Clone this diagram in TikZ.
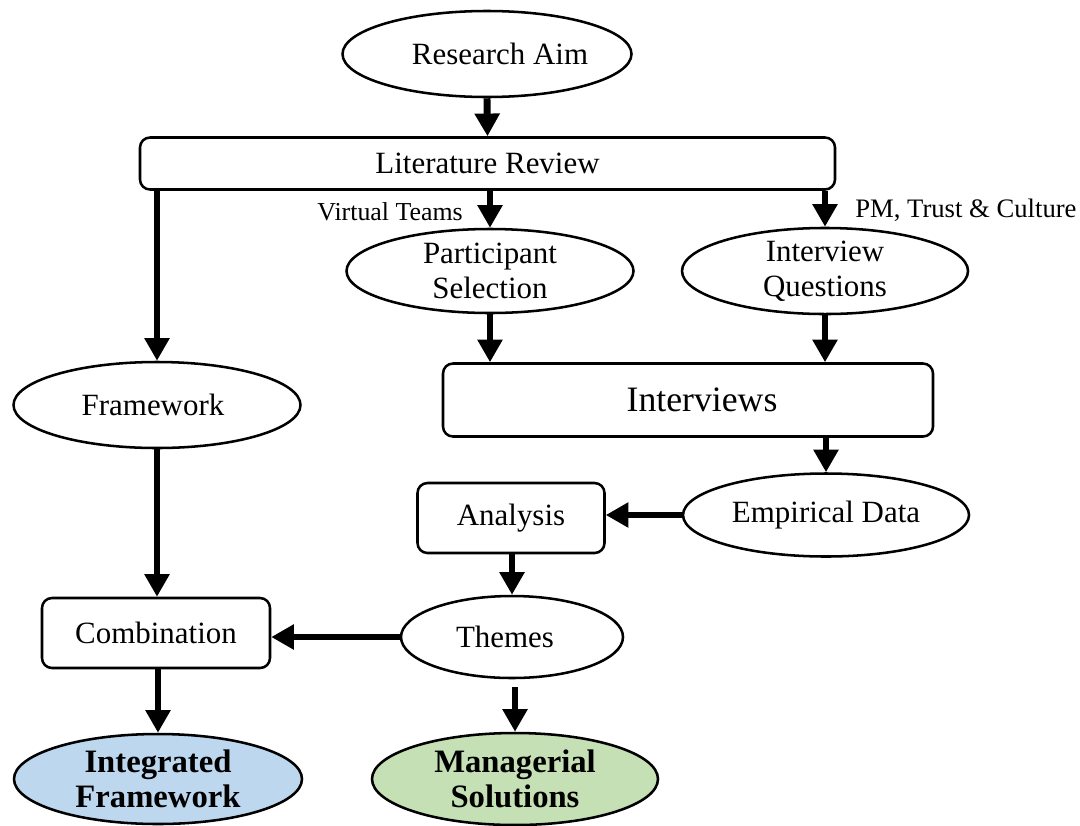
\documentclass[tikz,border=0pt]{standalone}
\usepackage{fontspec}
\setmainfont{Liberation Serif}
\usetikzlibrary{shapes.geometric,arrows.meta,calc}
\definecolor{ifblue}{RGB}{189,215,238}
\definecolor{msgreen}{RGB}{197,224,180}
\tikzset{
  oval/.style={ellipse, draw, line width=1.9pt, inner sep=0pt, align=center,
    font=\fontsize{23.2}{26.5}\selectfont},
  rbox/.style={rectangle, rounded corners=7.5pt, draw, line width=1.9pt, inner sep=0pt,
    align=center, font=\fontsize{23.2}{26.5}\selectfont},
  result/.style={oval, font=\fontsize{24.5}{26.5}\selectfont\bfseries},
  tag/.style={inner sep=0pt, font=\fontsize{19.4}{22}\selectfont},
  flow/.style={line width=5.2pt, -{Triangle[width=18pt,length=17pt]}}
}
\begin{document}
\begin{tikzpicture}[x=0.75pt,y=-0.75pt]
\useasboundingbox (0,0) rectangle (1080,825);

% nodes
\node[oval, minimum width=216.75pt, minimum height=64.5pt] (ra) at (487,54) {\hspace*{19.5pt}Research Aim};
\node[rbox, minimum width=521.25pt, minimum height=39pt] (lit) at (487.5,163.5) {Literature Review};
\node[oval, minimum width=215.25pt, minimum height=63pt] (ps) at (490,271) {Participant\\Selection};
\node[oval, minimum width=214.5pt, minimum height=61.5pt] (iq) at (825,271) {Interview\\Questions};
\node[oval, minimum width=215.25pt, minimum height=64.5pt] (fw) at (157,405) {Framework\hspace*{6pt}};
\node[rbox, minimum width=367.5pt, minimum height=54.75pt, font=\fontsize{26.8}{30}\selectfont] (int) at (688,400) {\hspace*{21pt}Interviews};
\node[oval, minimum width=214.5pt, minimum height=62.25pt] (ed) at (826,515) {Empirical Data};
\node[rbox, minimum width=140.25pt, minimum height=52.5pt] (an) at (511,518) {Analysis};
\node[oval, minimum width=166.5pt, minimum height=61.5pt] (th) at (512,637) {Themes\hspace*{10.5pt}};
\node[rbox, minimum width=171pt, minimum height=52.5pt] (co) at (156,633) {Combination};
\node[result, fill=ifblue, minimum width=216pt, minimum height=67.5pt] (if) at (158,779) {Integrated\\Framework};
\node[result, fill=msgreen, minimum width=214.5pt, minimum height=69pt] (ms) at (515,779) {Managerial\\Solutions};

% side labels
\node[tag, anchor=east] (vt) at (463,212) {Virtual Teams};
\node[tag, anchor=west, font=\fontsize{20}{22}\selectfont] (ptc) at (855,210) {PM, Trust \& Culture};

% connectors
\draw[flow] (ra.south) -- (lit.north);
\draw[flow] (lit.south -| ps.north) -- (ps.north);
\draw[flow] (lit.south -| iq.north) -- (iq.north);
\draw[flow] (lit.south -| fw.north) -- (fw.north);
\draw[flow] (ps.south) -- (ps.south |- int.north);
\draw[flow] (iq.south) -- (iq.south |- int.north);
\draw[flow] (int.south -| ed.north) -- (ed.north);
\draw[flow] (ed.west) -- (ed.west -| an.east);
\draw[flow] (an.south -| th.north) -- (th.north);
\draw[flow] (th.west) -- (th.west -| co.east);
\draw[flow] (fw.south) -- (fw.south |- co.north);
\draw[flow] (co.south -| if.north) -- (if.north);
\draw[flow, shorten <=6pt] (th.south -| ms.north) -- (ms.north);
\end{tikzpicture}
\end{document}
